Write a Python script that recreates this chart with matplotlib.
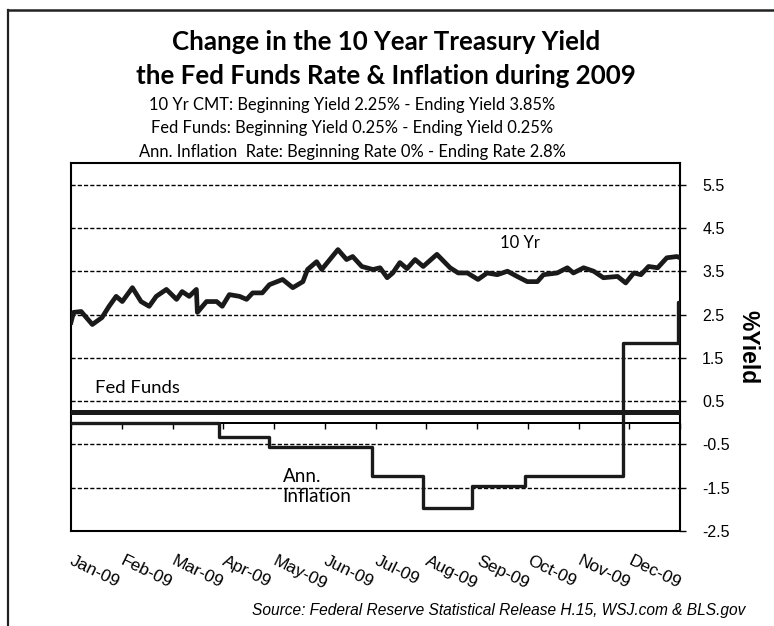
import matplotlib
matplotlib.use("Agg")
import matplotlib.pyplot as plt
from matplotlib.lines import Line2D

# month index (0 = Jan 1, 12 = Dec 31) and yields
tenyr_month = [0.0, 0.05, 0.20, 0.42, 0.61, 0.75, 0.89, 1.01, 1.21, 1.38, 1.54, 1.68,
               1.88, 2.08, 2.19, 2.33, 2.47, 2.49, 2.67, 2.87, 2.98, 3.12, 3.32, 3.46,
               3.58, 3.77, 3.91, 4.17, 4.37, 4.57, 4.66, 4.84, 4.94, 5.10, 5.26, 5.43,
               5.55, 5.73, 5.95, 6.09, 6.23, 6.34, 6.48, 6.62, 6.78, 6.94, 7.21, 7.47,
               7.63, 7.81, 8.02, 8.20, 8.40, 8.60, 8.79, 8.99, 9.19, 9.31, 9.58, 9.78,
               9.90, 10.10, 10.30, 10.49, 10.77, 10.93, 11.09, 11.23, 11.38, 11.56,
               11.74, 11.94, 12.0]
tenyr_yield = [2.32, 2.55, 2.57, 2.27, 2.43, 2.69, 2.92, 2.80, 3.12, 2.80, 2.69, 2.92,
               3.08, 2.85, 3.03, 2.92, 3.08, 2.55, 2.80, 2.80, 2.69, 2.96, 2.92, 2.85,
               3.00, 3.00, 3.19, 3.31, 3.12, 3.26, 3.54, 3.72, 3.54, 3.77, 4.00, 3.77,
               3.84, 3.61, 3.54, 3.58, 3.35, 3.46, 3.70, 3.56, 3.77, 3.61, 3.89, 3.58,
               3.46, 3.46, 3.31, 3.46, 3.42, 3.50, 3.38, 3.26, 3.26, 3.42, 3.46, 3.58,
               3.46, 3.58, 3.50, 3.35, 3.38, 3.23, 3.46, 3.42, 3.61, 3.58,
               3.81, 3.84, 3.81]

fed_month = [0.0, 12.0]
fed_rate = [0.25, 0.25]

infl_month = [0.0, 2.92, 3.90, 5.93, 6.94, 7.90, 8.95, 10.87, 11.96, 12.0]
infl_rate = [0.0, -0.33, -0.55, -1.24, -1.97, -1.47, -1.24, 1.85, 2.8, 2.8]

month_labels = ["Jan-09", "Feb-09", "Mar-09", "Apr-09", "May-09", "Jun-09",
                "Jul-09", "Aug-09", "Sep-09", "Oct-09", "Nov-09", "Dec-09"]
yticks = [-2.5, -1.5, -0.5, 0.5, 1.5, 2.5, 3.5, 4.5, 5.5]

num_font = "Liberation Sans"
txt_font = "Lato"

fig = plt.figure(figsize=(7.74, 6.26), dpi=100)
ax = fig.add_axes([71 / 774, 1 - 531 / 626, 609 / 774, 368 / 626])

ax.set_xlim(0, 12)
ax.set_ylim(-2.5, 6.0)

# dashed grid
for v in yticks[1:]:
    ax.axhline(v, color="black", lw=1.0, ls=(0, (3, 1.5)), zorder=1)

ax.axhline(0, color="black", lw=1.4, zorder=2)

ax.plot(tenyr_month, tenyr_yield, color="#1a1a1a", lw=3.4, solid_joinstyle="round", zorder=3)
ax.plot(fed_month, fed_rate, color="#1a1a1a", lw=3.6, zorder=3)
ax.step(infl_month, infl_rate, where="post", color="#1a1a1a", lw=2.4, zorder=3)

for s in ax.spines.values():
    s.set_linewidth(1.5)

ax.yaxis.tick_right()
ax.set_yticks(yticks)
ax.set_yticklabels([f"{v:.1f}" for v in yticks], fontfamily=num_font, fontsize=11.5)
ax.tick_params(axis="y", direction="out", length=4, width=1.0, pad=12)

ax.set_xticks(range(12))
ax.set_xticklabels(month_labels, rotation=-26, fontfamily=num_font, fontsize=12.5,
                   rotation_mode="anchor", ha="left", va="center")
ax.tick_params(axis="x", length=0, pad=21)

# category axis crossing at zero, with month ticks
zero_ax = ax.secondary_xaxis(2.5 / 8.5)
zero_ax.set_xticks(range(13))
zero_ax.set_xticklabels([])
zero_ax.tick_params(direction="out", length=4, width=1.0)
zero_ax.spines["bottom"].set_linewidth(1.4)

ax.text(1.112, 0.5, "%Yield", transform=ax.transAxes, rotation=270,
        ha="center", va="center", fontfamily=num_font, fontweight="bold", fontsize=16.5)

ax.text(8.85, 4.16, "10 Yr", ha="center", va="center", fontfamily=txt_font, fontsize=12)
ax.text(0.47, 0.81, "Fed Funds", ha="left", va="center", fontfamily=txt_font, fontsize=13.3)
ax.text(4.17, -1.47, "Ann.\nInflation", ha="left", va="center", fontfamily=txt_font,
        fontsize=13.5, linespacing=1.2)

fig.text(386 / 774, 1 - 42 / 626, "Change in the 10 Year Treasury Yield", ha="center",
         va="center", fontfamily=txt_font, fontweight="bold", fontsize=18.6)
fig.text(386 / 774, 1 - 76 / 626, "the Fed Funds Rate & Inflation during 2009", ha="center",
         va="center", fontfamily=txt_font, fontweight="bold", fontsize=18.6)
subs = ["10 Yr CMT: Beginning Yield 2.25% - Ending Yield 3.85%",
        "Fed Funds: Beginning Yield 0.25% - Ending Yield 0.25%",
        "Ann. Inflation  Rate: Beginning Rate 0% - Ending Rate 2.8%"]
for i, s in enumerate(subs):
    fig.text(352 / 774, 1 - (105 + 23.5 * i) / 626, s, ha="center", va="center",
             fontfamily=txt_font, fontsize=11.9)

fig.text(252 / 774, 1 - 610 / 626,
         "Source: Federal Reserve Statistical Release H.15, WSJ.com & BLS.gov",
         ha="left", va="center", fontfamily=num_font, style="italic", fontsize=11.2)

# outer frame (top and left edges only visible)
fig.add_artist(Line2D([8 / 774, 8 / 774], [0, 1 - 10 / 626], color="#222222", lw=1.6))
fig.add_artist(Line2D([8 / 774, 1], [1 - 10 / 626, 1 - 10 / 626], color="#222222", lw=1.8))

fig.savefig("out.png", dpi=100)
